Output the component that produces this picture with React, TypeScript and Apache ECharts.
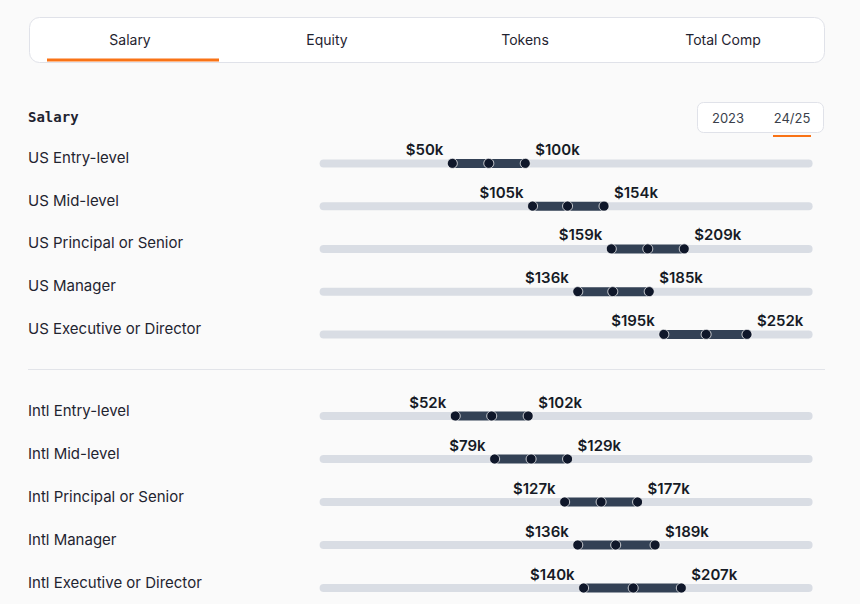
import React, { useEffect, useRef } from "react";
import * as echarts from "echarts";

const tabs = ["Salary", "Equity", "Tokens", "Total Comp"];
const years = ["2023", "24/25"];
const usLevels = ["US Entry-level", "US Mid-level", "US Principal or Senior", "US Manager", "US Executive or Director"];
const usLow = [50, 105, 159, 136, 195];
const usMid = [75, 129, 184, 160, 224];
const usHigh = [100, 154, 209, 185, 252];
const intlLevels = ["Intl Entry-level", "Intl Mid-level", "Intl Principal or Senior", "Intl Manager", "Intl Executive or Director"];
const intlLow = [52, 79, 127, 136, 140];
const intlMid = [77, 104, 152, 162, 174];
const intlHigh = [102, 129, 177, 189, 207];

const X_MIN = -41;
const X_MAX = 297;

const fmt = (v: number) => "$" + v + "k";

function renderItem(params: any, api: any) {
  const cat = api.value(0);
  const lo = api.value(1);
  const mid = api.value(2);
  const hi = api.value(3);
  const pLo = api.coord([lo, cat]);
  const pMid = api.coord([mid, cat]);
  const pHi = api.coord([hi, cat]);
  const cs = params.coordSys;
  const cy = pLo[1];
  const dot = (x: number) => ({
    type: "circle",
    shape: { cx: x, cy: cy, r: 5 },
    style: { fill: "#0f172a", stroke: "rgba(255,255,255,0.75)", lineWidth: 1 },
  });
  const label = (x: number, text: string, align: string) => ({
    type: "text",
    x: x,
    y: cy - 14,
    style: {
      text: text,
      fill: "#161b26",
      font: "600 15px Inter",
      align: align,
      textAlign: align,
      verticalAlign: "middle",
      textVerticalAlign: "middle",
    },
  });
  return {
    type: "group",
    children: [
      {
        type: "rect",
        shape: { x: cs.x, y: cy - 4, width: cs.width, height: 8, r: 4 },
        style: { fill: "#d9dde4" },
      },
      {
        type: "rect",
        shape: { x: pLo[0], y: cy - 4.5, width: pHi[0] - pLo[0], height: 9 },
        style: { fill: "#334155" },
      },
      dot(pLo[0]),
      dot(pMid[0]),
      dot(pHi[0]),
      label(pLo[0] - 9, fmt(lo), "right"),
      label(pHi[0] + 10, fmt(hi), "left"),
    ],
  };
}

export default function App() {
  const ref = useRef<HTMLDivElement>(null);
  useEffect(() => {
    document.body.style.margin = "0";
    const chart = echarts.init(ref.current!, null, { renderer: "svg" });
    const usData = usLevels.map((_, i) => [i, usLow[i], usMid[i], usHigh[i]]);
    const intlData = intlLevels.map((_, i) => [i, intlLow[i], intlMid[i], intlHigh[i]]);
    const yAxisBase = (data: string[], grid: number) => ({
      type: "category",
      gridIndex: grid,
      data: data,
      inverse: true,
      axisLine: { show: false },
      axisTick: { show: false },
      splitLine: { show: false },
      axisLabel: {
        align: "left",
        verticalAlign: "bottom",
        lineHeight: 12,
        margin: 291.6,
        fontSize: 15,
        fontFamily: "Inter",
        color: "#1f2430",
      },
    });
    const xAxisBase = (grid: number) => ({
      type: "value",
      gridIndex: grid,
      min: X_MIN,
      max: X_MAX,
      show: false,
    });
    const tabCenters = [130, 327, 525, 723];
    const graphic: any[] = [
      {
        type: "rect",
        shape: { x: 29.5, y: 17.5, width: 795, height: 45, r: 10 },
        style: { fill: "#ffffff", stroke: "#e0e2e9", lineWidth: 1 },
      },
      ...tabs.map((t, i) => ({
        type: "text",
        x: tabCenters[i],
        y: 39.5,
        style: {
          text: t,
          font: "14px Inter",
          fill: "#1f2330",
          align: "center",
          textAlign: "center",
          verticalAlign: "middle",
          textVerticalAlign: "middle",
        },
      })),
      {
        type: "rect",
        shape: { x: 47, y: 58.5, width: 172, height: 3 },
        style: { fill: "#f97316" },
      },
      {
        type: "text",
        x: 28,
        y: 117,
        style: {
          text: "Salary",
          font: "bold 14px 'DejaVu Sans Mono'",
          fill: "#1f2330",
          align: "left",
          textAlign: "left",
          verticalAlign: "middle",
          textVerticalAlign: "middle",
        },
      },
      {
        type: "rect",
        shape: { x: 697.5, y: 102.5, width: 126, height: 30, r: 6 },
        style: { fill: "#ffffff", stroke: "#e0e2e9", lineWidth: 1 },
      },
      ...years.map((t, i) => ({
        type: "text",
        x: [728, 792][i],
        y: 117.5,
        style: {
          text: t,
          font: "13px Inter",
          fill: "#3a3f4b",
          align: "center",
          textAlign: "center",
          verticalAlign: "middle",
          textVerticalAlign: "middle",
        },
      })),
      {
        type: "rect",
        shape: { x: 773, y: 135, width: 38, height: 2 },
        style: { fill: "#f97316" },
      },
      {
        type: "line",
        shape: { x1: 28, y1: 369.5, x2: 825, y2: 369.5 },
        style: { stroke: "#e2e4e9", lineWidth: 1 },
      },
    ];
    chart.setOption({
      animation: false,
      backgroundColor: "#fafafa",
      grid: [
        { left: 319.6, width: 493, top: 142, height: 213.75, outerBoundsMode: "none", containLabel: false },
        { left: 319.6, width: 493, top: 394.5, height: 215, outerBoundsMode: "none", containLabel: false },
      ],
      xAxis: [xAxisBase(0), xAxisBase(1)],
      yAxis: [yAxisBase(usLevels, 0), yAxisBase(intlLevels, 1)],
      graphic: graphic,
      series: [
        {
          type: "custom",
          xAxisIndex: 0,
          yAxisIndex: 0,
          renderItem: renderItem,
          encode: { x: [1, 2, 3], y: 0 },
          data: usData,
          clip: false,
        },
        {
          type: "custom",
          xAxisIndex: 1,
          yAxisIndex: 1,
          renderItem: renderItem,
          encode: { x: [1, 2, 3], y: 0 },
          data: intlData,
          clip: false,
        },
      ],
    });
    return () => chart.dispose();
  }, []);
  return (
    <div
      ref={ref}
      style={{ position: "fixed", left: 0, top: 0, width: 860, height: 604, background: "#fafafa" }}
    />
  );
}
